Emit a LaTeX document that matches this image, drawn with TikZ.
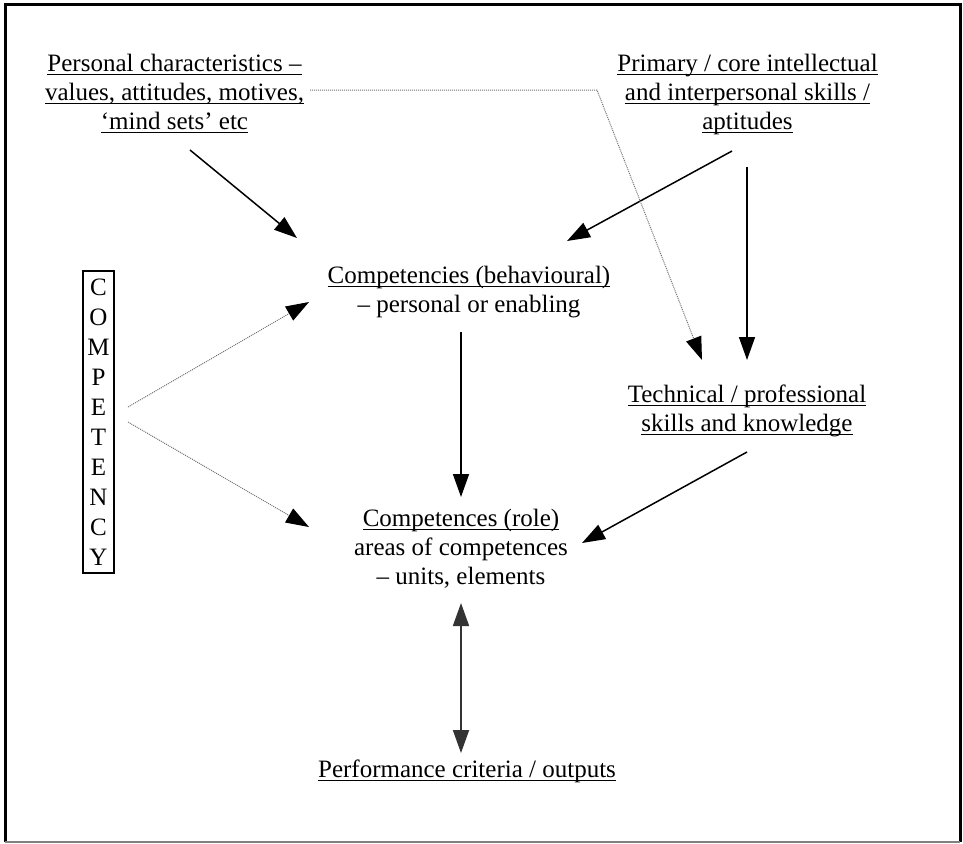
\documentclass[tikz,border=0pt]{standalone}
\usepackage{fontspec}
\setmainfont{Liberation Serif}
\usetikzlibrary{arrows.meta}

% underline that runs through descenders, like a word processor's
\newsavebox\ulinebox
\newcommand\ulined[1]{\sbox\ulinebox{#1}\rlap{\rule[-2.2pt]{\wd\ulinebox}{0.75pt}}\usebox\ulinebox}

\begin{document}
\begin{tikzpicture}[x=0.5pt,y=-0.5pt,
  % anchor=base of a multi-line node sits on its last line
  labeltext/.style={align=center, inner sep=0pt, anchor=base,
    font=\fontsize{12.5}{14.5}\selectfont},
  headtip/.style={-{Triangle[length=11.5pt,width=8pt,color=black]}},
  solidarrow/.style={headtip, line width=0.75pt},
  dottedarrow/.style={headtip, line width=0.5pt, draw=black!55,
    dash pattern=on 0.5pt off 0.5pt},
  twowayarrow/.style={{Triangle[length=11.5pt,width=8pt]}-{Triangle[length=11.5pt,width=8pt]},
    line width=0.9pt, draw=black!80},
]
\useasboundingbox (0,0) rectangle (963,843);

% page frame
\draw[line width=1.5pt] (5,842) -- (5,4) -- (960,4) -- (960,842);
\draw[line width=0.6pt, black!50] (5,842) -- (960,842);

% text blocks
\node[labeltext] (personal) at (174.5,129)
  {\ulined{Personal characteristics –}\\ \ulined{values, attitudes, motives,}\\ \ulined{‘mind sets’ etc}};
\node[labeltext] (primary) at (747.5,129)
  {\ulined{Primary / core intellectual}\\ \ulined{and interpersonal skills /}\\ \ulined{aptitudes}};
\node[labeltext] (behav) at (469,312)
  {\ulined{Competencies (behavioural)}\\ – personal or enabling};
\node[labeltext] (tech) at (747,431)
  {\ulined{Technical / professional}\\ \ulined{skills and knowledge}};
\node[labeltext] (role) at (461,584)
  {\ulined{Competences (role)}\\ areas of competences\\ – units, elements};
\node[labeltext] (perf) at (467,777)
  {\ulined{Performance criteria / outputs}};

% vertical word in a box
\node[draw, line width=0.8pt, align=center, inner xsep=2.2pt, inner ysep=4pt,
  font=\fontsize{12.5}{15}\selectfont] (comp) at (98.5,422)
  {C\\O\\M\\P\\E\\T\\E\\N\\C\\Y};

% connector end points
\coordinate (personal-out) at (190,150);
\coordinate (behav-in-left) at (297,238);
\coordinate (primary-out-left) at (732,151);
\coordinate (behav-in-right) at (567,241);
\coordinate (primary-out-down) at (747,167);
\coordinate (tech-in-right) at (747,360);
\coordinate (personal-side) at (310,90);
\coordinate (dotted-bend) at (597,90);
\coordinate (tech-in-left) at (702,360);
\coordinate (behav-out) at (461,332);
\coordinate (role-in-top) at (461,497);
\coordinate (comp-out-up) at (128,407);
\coordinate (behav-in-side) at (309,302);
\coordinate (comp-out-down) at (128,422);
\coordinate (role-in-left) at (309,527);
\coordinate (tech-out) at (747,452);
\coordinate (role-in-right) at (582,543);
\coordinate (role-out) at (461,603);
\coordinate (perf-in) at (461,753);

% connectors
\draw[solidarrow] (personal-out) -- (behav-in-left);
\draw[solidarrow] (primary-out-left) -- (behav-in-right);
\draw[solidarrow] (primary-out-down) -- (tech-in-right);
\draw[dottedarrow] (personal-side) -- (dotted-bend) -- (tech-in-left);
\draw[solidarrow] (behav-out) -- (role-in-top);
\draw[dottedarrow] (comp-out-up) -- (behav-in-side);
\draw[dottedarrow] (comp-out-down) -- (role-in-left);
\draw[solidarrow] (tech-out) -- (role-in-right);
\draw[twowayarrow] (role-out) -- (perf-in);
\end{tikzpicture}
\end{document}
